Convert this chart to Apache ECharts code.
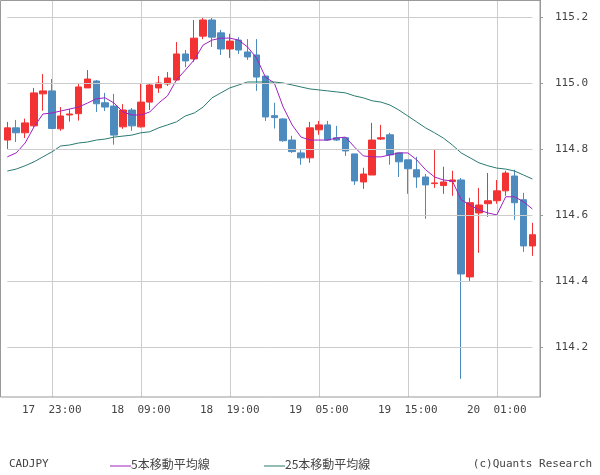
<!DOCTYPE html>
<html><head><meta charset="utf-8">
<script src="https://cdn.jsdelivr.net/npm/echarts@6/dist/echarts.min.js"></script>
<style>html,body{margin:0;padding:0;background:#fff}#c{width:600px;height:475px}</style>
</head><body><div id="c"></div>
<script>
// 60 hourly candles, 17 18:00 .. 20 05:00
const categories = [];
(function(){ let d=17,h=18; for(let i=0;i<60;i++){ categories.push(d+'  '+String(h).padStart(2,'0')+':00'); h++; if(h===24){h=0;d++;} } })();
const opens  = [114.827,114.864,114.849,114.870,114.967,114.976,114.861,114.903,114.907,114.985,115.006,114.940,114.930,114.867,114.918,114.867,114.942,114.985,114.997,115.009,115.088,115.073,115.142,115.191,115.152,115.103,115.130,115.094,115.085,115.021,114.901,114.891,114.827,114.788,114.773,114.858,114.873,114.834,114.834,114.785,114.700,114.721,114.830,114.843,114.788,114.767,114.737,114.715,114.695,114.689,114.701,114.706,114.412,114.606,114.634,114.643,114.673,114.718,114.646,114.506];
const closes = [114.864,114.849,114.879,114.970,114.976,114.862,114.900,114.906,114.988,115.012,114.937,114.927,114.842,114.918,114.870,114.942,114.994,115.000,115.015,115.088,115.067,115.136,115.191,115.139,115.103,115.127,115.100,115.079,115.018,114.897,114.895,114.825,114.792,114.773,114.864,114.873,114.827,114.827,114.794,114.703,114.724,114.827,114.834,114.782,114.761,114.740,114.715,114.691,114.697,114.700,114.706,114.421,114.637,114.630,114.643,114.673,114.727,114.637,114.506,114.540];
const lows   = [114.800,114.821,114.833,114.867,114.916,114.861,114.855,114.883,114.886,114.985,114.912,114.915,114.813,114.861,114.855,114.865,114.918,114.970,114.991,115.006,115.048,115.064,115.133,115.109,115.085,115.076,115.088,115.070,114.976,114.885,114.862,114.822,114.788,114.752,114.758,114.843,114.824,114.824,114.779,114.691,114.679,114.721,114.827,114.752,114.715,114.664,114.682,114.588,114.682,114.664,114.658,114.103,114.400,114.485,114.594,114.634,114.658,114.585,114.488,114.476];
const highs  = [114.882,114.888,114.892,114.985,115.027,115.012,114.927,114.921,114.997,115.039,115.009,114.970,114.967,114.936,114.924,115.000,114.997,115.021,115.033,115.124,115.100,115.191,115.197,115.197,115.161,115.149,115.139,115.133,115.133,115.021,114.940,114.893,114.840,114.797,114.882,114.885,114.885,114.870,114.834,114.785,114.743,114.879,114.873,114.849,114.788,114.767,114.776,114.724,114.797,114.746,114.734,114.712,114.652,114.682,114.727,114.706,114.734,114.737,114.667,114.576];
const ma5  = [114.776,114.788,114.818,114.867,114.906,114.909,114.915,114.921,114.927,114.939,114.952,114.955,114.939,114.912,114.903,114.903,114.912,114.939,114.961,115.009,115.039,115.070,115.115,115.130,115.136,115.136,115.130,115.109,115.076,115.018,115.000,114.927,114.873,114.836,114.827,114.827,114.827,114.833,114.836,114.806,114.779,114.776,114.776,114.782,114.788,114.788,114.767,114.737,114.715,114.706,114.703,114.646,114.630,114.615,114.606,114.600,114.655,114.655,114.640,114.618];
const ma25 = [114.733,114.739,114.749,114.761,114.776,114.791,114.809,114.812,114.818,114.821,114.827,114.830,114.836,114.839,114.842,114.849,114.852,114.864,114.873,114.882,114.900,114.909,114.927,114.955,114.970,114.985,114.994,115.003,115.003,115.003,115.003,115.000,114.994,114.988,114.982,114.979,114.976,114.973,114.970,114.961,114.955,114.946,114.942,114.933,114.918,114.900,114.882,114.864,114.849,114.833,114.812,114.788,114.773,114.758,114.749,114.742,114.739,114.733,114.721,114.709];
const yTicks = [114.2,114.4,114.6,114.8,115.0,115.2];
const xLabelIdx = [5,15,25,35,45,55];

const candles = categories.map((c,i)=>[opens[i],closes[i],lows[i],highs[i]]);
const font = 'DejaVu Sans Mono';
const chart = echarts.init(document.getElementById('c'));
chart.setOption({
  animation:false,
  grid:{left:7.3,right:67.6,top:0,bottom:78},
  xAxis:{type:'category',data:categories,boundaryGap:false,
    axisLine:{show:false},axisTick:{show:false},
    axisLabel:{interval:(i)=>xLabelIdx.includes(i),color:'#444',fontFamily:font,fontSize:11,margin:8},
    splitLine:{show:true,interval:(i)=>xLabelIdx.includes(i),lineStyle:{color:'#cccccc'}}},
  yAxis:{type:'value',position:'right',min:114.048,max:115.2516,offset:7.6,
    axisLine:{show:true,lineStyle:{color:'#999'}},
    axisTick:{show:true,length:3,customValues:yTicks,lineStyle:{color:'#999'}},
    axisLabel:{customValues:yTicks,formatter:v=>v.toFixed(1),color:'#444',fontFamily:font,fontSize:11,margin:15},
    splitLine:{show:false}},
  graphic:[
    {type:'rect',shape:{x:0.5,y:0.5,width:539.5,height:396.5},style:{fill:null,stroke:'#999',lineWidth:1},z:10,silent:true},
    {type:'text',left:9,top:459,style:{text:'CADJPY',font:'11px '+font,fill:'#444'}},
    {type:'line',shape:{x1:110,y1:466,x2:131,y2:466},style:{stroke:'#a020c0',lineWidth:1}},
    {type:'text',left:131,top:458,style:{text:'5本移動平均線',font:'12px "Noto Sans CJK JP"',fill:'#444'}},
    {type:'line',shape:{x1:264,y1:466,x2:285,y2:466},style:{stroke:'#2a7a70',lineWidth:1}},
    {type:'text',left:285,top:458,style:{text:'25本移動平均線',font:'12px "Noto Sans CJK JP"',fill:'#444'}},
    {type:'text',right:8,top:459,style:{text:'(c)Quants Research',font:'11px '+font,fill:'#444'}}
  ],
  series:[
    {type:'candlestick',data:candles,clip:false,barWidth:7,
     itemStyle:{color:'#f33333',color0:'#4d8bbf',borderColor:'#f33333',borderColor0:'#4d8bbf',borderWidth:1},
     markLine:{silent:true,symbol:'none',label:{show:false},lineStyle:{color:'#cccccc',type:'solid',width:1},
       data:yTicks.map(v=>({yAxis:v}))},z:3},
    {type:'line',data:ma5,symbol:'none',lineStyle:{color:'#a020c0',width:1},z:4},
    {type:'line',data:ma25,symbol:'none',lineStyle:{color:'#2a7a70',width:1},z:4}
  ]
});
</script></body></html>
